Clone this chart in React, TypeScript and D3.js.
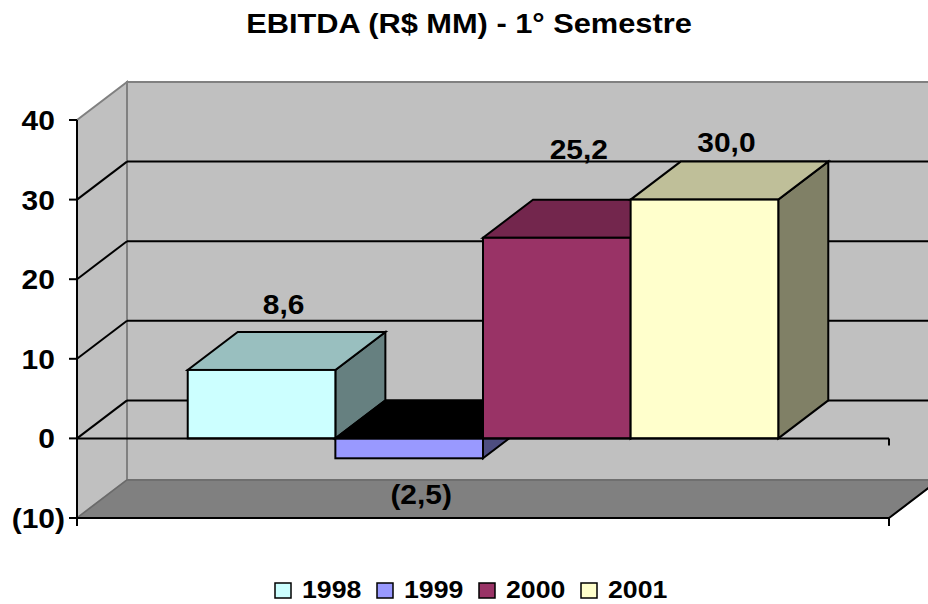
import React from 'react';
import * as d3 from 'd3';

const years = ['1998', '1999', '2000', '2001'];
const values = [8.6, -2.5, 25.2, 30.0];
const colors = ['#ccffff', '#9999ff', '#993366', '#ffffcc'];
const yTicks = [-10, 0, 10, 20, 30, 40];
const title = 'EBITDA (R$ MM) - 1° Semestre';

const W = 928;
const H = 604;
const plot = { left: 77, right: 889, top: 120, bottom: 518 };
const depth = { dx: 50, dy: -38 };
const FONT = 'Arial, "Liberation Sans", sans-serif';

const shade = (c: string, k: number) => {
  const r = d3.rgb(c);
  return d3.rgb(r.r * k, r.g * k, r.b * k).formatHex();
};

const fmtNum = (v: number, digits: number) => {
  const s = d3.format(`.${digits}f`)(Math.abs(v)).replace('.', ',');
  return v < 0 ? `(${s})` : s;
};

const pts = (p: [number, number][]) => p.map(d => d.join(',')).join(' ');

// the original text is a bit wider than Liberation Sans, stretch it horizontally
const Txt = ({ x, y, sx = 1, size, anchor = 'start', children }: any) => (
  <text transform={`translate(${x},${y}) scale(${sx},1)`} textAnchor={anchor}
    fontSize={size} fontWeight="bold" fill="#000">{children}</text>
);

// small per-bar nudges for the value labels (Excel placed them by hand)
const labelNudge = [-2, 0, -25, 6];

export default function App() {
  const y = d3.scaleLinear().domain([-10, 40]).range([plot.bottom, plot.top]);
  const x = d3.scaleBand<string>().domain(years).range([plot.left, plot.right])
    .paddingInner(0).paddingOuter(0.75);
  const bw = x.bandwidth();
  const { dx, dy } = depth;
  const backL = plot.left + dx;
  const backR = plot.right + dx;
  const y0 = y(0);
  const yMin = y(-10);
  const yMax = y(40);

  const gridVals = yTicks.filter(t => t > -10 && t < 40);

  return (
    <div style={{ position: 'absolute', left: 0, top: 0 }}>
      <svg width={W} height={H} style={{ display: 'block' }} fontFamily={FONT}>
        <rect width={W} height={H} fill="#ffffff" />
        <Txt x={469} y={33} sx={1.1} size={28} anchor="middle">{title}</Txt>

        {/* walls */}
        <rect x={backL} y={yMax + dy} width={backR - backL} height={yMin - yMax}
          fill="#c0c0c0" stroke="#808080" strokeWidth={2} />
        <polygon points={pts([[plot.left, yMax], [backL, yMax + dy], [backL, yMin + dy], [plot.left, yMin]])}
          fill="#c0c0c0" stroke="#808080" strokeWidth={2} />
        <polygon points={pts([[plot.left, yMin], [backL, yMin + dy], [backR, yMin + dy], [plot.right, yMin]])}
          fill="#808080" stroke="#6a6a6a" strokeWidth={1.5} />
        <line x1={plot.right} y1={yMin} x2={backR} y2={yMin + dy} stroke="#000" strokeWidth={2} />

        {/* gridlines */}
        {gridVals.map(t => (
          <g key={t} stroke="#000" strokeWidth={2}>
            <line x1={backL} x2={W + 20} y1={y(t) + dy} y2={y(t) + dy} />
            <line x1={plot.left} y1={y(t)} x2={backL} y2={y(t) + dy} />
          </g>
        ))}

        {/* bars */}
        {years.map((yr, i) => {
          const v = values[i];
          const x0 = x(yr)!;
          const x1 = x0 + bw;
          const yt = y(Math.max(v, 0));
          const yb = y(Math.min(v, 0));
          const c = colors[i];
          const topFill = v < 0 ? '#000000' : shade(c, 0.75);
          return (
            <g key={yr} stroke="#000" strokeWidth={2} strokeLinejoin="miter">
              <polygon points={pts([[x1, yt], [x1 + dx, yt + dy], [x1 + dx, yb + dy], [x1, yb]])} fill={shade(c, 0.5)} />
              <polygon points={pts([[x0, yt], [x1, yt], [x1 + dx, yt + dy], [x0 + dx, yt + dy]])} fill={topFill} />
              <rect x={x0} y={yt} width={bw} height={yb - yt} fill={c} />
            </g>
          );
        })}

        {/* front axes */}
        <g stroke="#000" strokeWidth={2}>
          <line x1={plot.left} x2={plot.left} y1={yMax} y2={yMin + 8} />
          <line x1={plot.left} x2={plot.right} y1={y0} y2={y0} />
          <line x1={plot.right} x2={plot.right} y1={y0} y2={y0 + 7} />
          <line x1={plot.left} x2={plot.right} y1={yMin} y2={yMin} />
          <line x1={plot.right} x2={plot.right} y1={yMin} y2={yMin + 8} />
          {yTicks.map(t => (
            <line key={t} x1={plot.left - 8} x2={plot.left} y1={y(t)} y2={y(t)} />
          ))}
        </g>

        {/* tick labels */}
        {yTicks.map(t => (
          <Txt key={t} x={t < 0 ? 65 : 65 - 28 * 0.36} y={y(t) + 10} sx={1.07} size={28} anchor="end">
            {fmtNum(t, 0)}
          </Txt>
        ))}

        {/* value labels */}
        {years.map((yr, i) => {
          const v = values[i];
          const x0 = x(yr)!;
          const yt = y(Math.max(v, 0));
          const yb = y(Math.min(v, 0));
          const lx = v < 0 ? x0 + bw / 2 + 12 : x0 + bw / 2 + dx / 2 - 3;
          const ly = v < 0 ? yb + 46 : yt + dy / 2 - 35 + labelNudge[i];
          return (
            <Txt key={yr} x={lx} y={ly} sx={1.07} size={28} anchor="middle">{fmtNum(v, 1)}</Txt>
          );
        })}

        {/* legend */}
        {years.map((yr, i) => {
          const lx = 275 + i * 102;
          return (
            <g key={yr}>
              <rect x={lx} y={583} width={16} height={15} fill={colors[i]} stroke="#000" strokeWidth={1.5} />
              <Txt x={lx + 27} y={598} sx={1.16} size={23}>{yr}</Txt>
            </g>
          );
        })}
      </svg>
    </div>
  );
}
